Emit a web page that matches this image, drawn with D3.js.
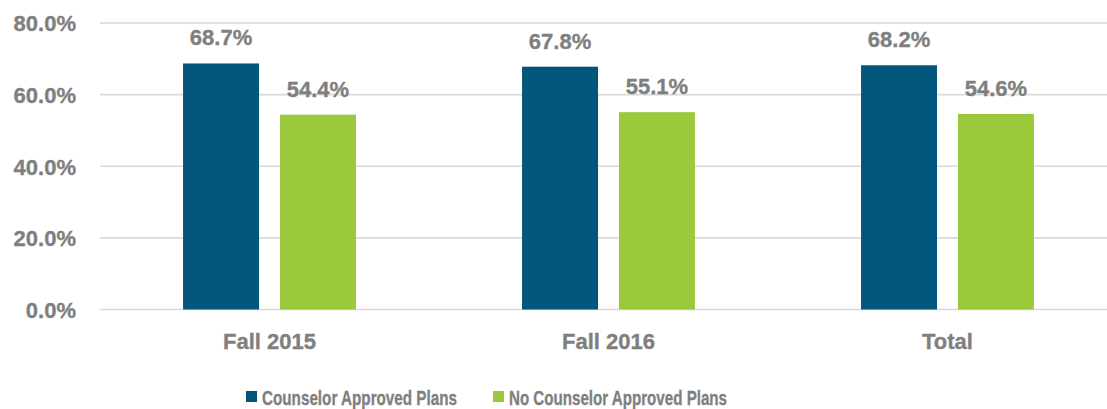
<!DOCTYPE html>
<html>
<head>
<meta charset="utf-8">
<script src="https://cdn.jsdelivr.net/npm/d3@7"></script>
<style>
  html, body { margin: 0; padding: 0; background: #fff; }
  svg { display: block; }
</style>
</head>
<body>
<svg id="chart" width="1107" height="409"></svg>
<script>
const categories = ["Fall 2015", "Fall 2016", "Total"];
const seriesNames = ["Counselor Approved Plans", "No Counselor Approved Plans"];
const counselorApproved = [0.687, 0.678, 0.682];
const noCounselorApproved = [0.544, 0.551, 0.546];
const yTicks = [0, 0.2, 0.4, 0.6, 0.8];
const colors = ["#02557B", "#9BC93B"];

const seriesValues = [counselorApproved, noCounselorApproved];
const rows = categories.map((c, i) => ({
  category: c,
  values: seriesNames.map((s, j) => ({ series: s, idx: j, value: seriesValues[j][i] }))
}));

const svg = d3.select("#chart");
const textColor = "#7F7F7F";
const numFont = "'Liberation Sans', Arial, sans-serif";

const x0 = d3.scaleBand().domain(categories).range([100, 1117]).padding(0);
const bw = x0.bandwidth();
const x1 = d3.scaleBand().domain(seriesNames)
  .range([bw * 0.245, bw * 0.755]).paddingInner(0.2165).paddingOuter(0);
const y = d3.scaleLinear().domain([0, 0.8]).range([309.5, 23]);

// gridlines
svg.append("g").selectAll("line").data(yTicks).join("line")
  .attr("x1", 100).attr("x2", 1107)
  .attr("y1", d => y(d)).attr("y2", d => y(d))
  .attr("stroke", "#D9D9D9").attr("stroke-width", 1.6);

function styleText(sel, size) {
  sel.attr("fill", textColor)
    .style("font-family", numFont)
    .style("font-weight", "bold")
    .style("font-size", size + "px")
    .attr("stroke", textColor)
    .attr("stroke-width", 0.35);
}

// y axis labels
const yAxis = d3.axisLeft(y).tickValues(yTicks).tickFormat(d3.format(".1%")).tickSize(0).tickPadding(0);
const yg = svg.append("g").attr("transform", "translate(76,0)").call(yAxis);
yg.select(".domain").remove();
yg.selectAll("text").attr("dy", "0.36em").call(styleText, 22);

// bars
const groups = svg.append("g").selectAll("g").data(rows).join("g")
  .attr("transform", d => `translate(${x0(d.category)},0)`);

groups.selectAll("rect").data(d => d.values).join("rect")
  .attr("x", d => x1(d.series))
  .attr("width", x1.bandwidth())
  .attr("y", d => y(d.value))
  .attr("height", d => y(0) - y(d.value))
  .attr("fill", d => colors[d.idx]);

groups.selectAll("text.val").data(d => d.values).join("text")
  .attr("class", "val")
  .attr("x", d => x1(d.series) + x1.bandwidth() / 2)
  .attr("y", d => y(d.value) - 18)
  .attr("text-anchor", "middle")
  .text(d => d3.format(".1%")(d.value))
  .call(styleText, 22);

// x axis labels
const xAxis = d3.axisBottom(x0).tickSize(0).tickPadding(0);
const xg = svg.append("g").attr("transform", "translate(0,349)").call(xAxis);
xg.select(".domain").remove();
xg.selectAll("text").attr("dy", 0).attr("y", 0).call(styleText, 22);

// legend
const legendX = [246, 493];
const legendW = [195, 218];
const legend = svg.append("g").selectAll("g").data(seriesNames).join("g")
  .attr("transform", (d, i) => `translate(${legendX[i]},0)`);
legend.append("rect")
  .attr("x", 0).attr("y", 391).attr("width", 11).attr("height", 11)
  .attr("fill", (d, i) => colors[i]);
legend.append("text")
  .attr("x", 16).attr("y", 405)
  .attr("textLength", (d, i) => legendW[i])
  .attr("lengthAdjust", "spacingAndGlyphs")
  .text(d => d)
  .call(styleText, 21);
</script>
</body>
</html>
